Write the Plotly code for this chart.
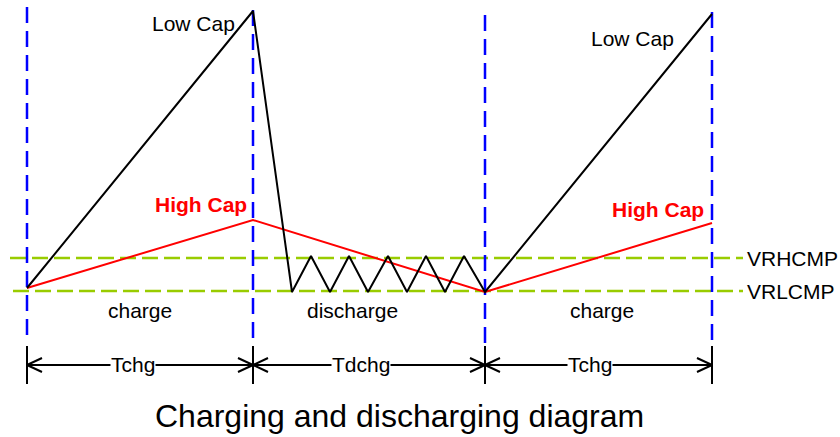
import plotly.graph_objects as go

# everything is laid out in picture pixels (x to the right, y downwards)
t_edges = [27, 253, 485, 712]
v_high = 258
v_low = 291
comp_labels = ["VRHCMP", "VRLCMP"]

low_cap_x = [27, 253, 292, 311, 330, 349, 368, 388, 407, 426, 445, 464, 485, 712]
low_cap_y = [288, 11, 292, 256, 292, 256, 292, 256, 292, 256, 292, 256, 292, 14]

high_cap_x = [27, 253, 485, 712]
high_cap_y = [288, 220, 292, 223]

phase_names = ["charge", "discharge", "charge"]
period_names = ["Tchg", "Tdchg", "Tchg"]
title_text = "Charging and discharging diagram"

FONT = "Liberation Sans, Arial, sans-serif"

fig = go.Figure()

# comparator levels
for yv, x0 in [(v_high, 10), (v_low, 13)]:
    fig.add_trace(go.Scatter(x=[x0, 743], y=[yv, yv], mode="lines",
                             line=dict(color="#99cc00", width=2.5, dash="16px,6px"),
                             hoverinfo="skip"))

# phase boundaries
for i, xe in enumerate(t_edges):
    top = [7, 10, 15, 12][i]
    fig.add_trace(go.Scatter(x=[xe, xe], y=[top, 343], mode="lines",
                             line=dict(color="#0000ff", width=2.5, dash="16px,8px"),
                             hoverinfo="skip"))

fig.add_trace(go.Scatter(x=high_cap_x, y=high_cap_y, mode="lines",
                         line=dict(color="#ff0000", width=2), hoverinfo="skip"))
fig.add_trace(go.Scatter(x=low_cap_x, y=low_cap_y, mode="lines",
                         line=dict(color="black", width=2), hoverinfo="skip"))

# dimension line with ticks and open arrowheads
arr_y = 365
fig.add_trace(go.Scatter(x=[t_edges[0], t_edges[-1]], y=[arr_y, arr_y], mode="lines",
                         line=dict(color="black", width=2), hoverinfo="skip"))
for xe in t_edges:
    fig.add_trace(go.Scatter(x=[xe, xe], y=[346, 384], mode="lines",
                             line=dict(color="black", width=2), hoverinfo="skip"))
for a, b in zip(t_edges[:-1], t_edges[1:]):
    for tip, d in [(a, 1), (b, -1)]:
        fig.add_trace(go.Scatter(x=[tip + 15 * d, tip, tip + 15 * d],
                                 y=[arr_y - 7, arr_y, arr_y + 7], mode="lines",
                                 line=dict(color="black", width=2), hoverinfo="skip"))

ann = []
def txt(x, y, s, size=21, color="black", bold=False, xanchor="center", bg=None):
    ann.append(dict(x=x, y=y, text="<b>%s</b>" % s if bold else s, showarrow=False,
                    xanchor=xanchor, yanchor="middle",
                    font=dict(family=FONT, size=size, color=color),
                    bgcolor=bg, borderpad=0))

txt(193, 23, "Low Cap")
txt(632, 38, "Low Cap")
txt(201, 204, "High Cap", color="#ff0000", bold=True)
txt(658, 209, "High Cap", color="#ff0000", bold=True)
for cx, s in zip([140, 352, 602], phase_names):
    txt(cx, 310, s)
for cx, s in zip([133, 361, 590], period_names):
    txt(cx, 364, s, bg="white")
for yv, s in zip([v_high, v_low], comp_labels):
    txt(746, yv, s, xanchor="left")
txt(399, 416, title_text, size=32)

fig.update_layout(
    width=840, height=437,
    margin=dict(l=0, r=0, t=0, b=0),
    paper_bgcolor="white", plot_bgcolor="white",
    showlegend=False,
    annotations=ann,
    xaxis=dict(range=[0, 840], visible=False, fixedrange=True),
    yaxis=dict(range=[437, 0], visible=False, fixedrange=True),
)

fig.write_html("out.html", config={"displayModeBar": False},
               post_script="document.body.style.margin='0';document.body.style.overflow='hidden';")
